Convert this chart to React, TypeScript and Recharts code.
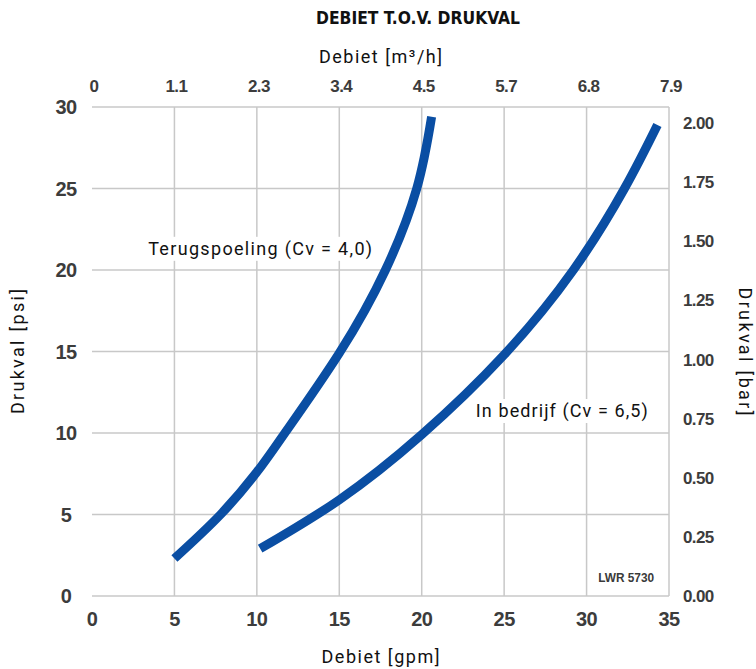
import React from "react";
import {
  LineChart,
  Line,
  XAxis,
  YAxis,
  CartesianGrid,
  ReferenceDot,
  Label,
} from "recharts";

// flow in gpm, with the matching m3/h values printed on the top axis
const gpmTicks = [0, 5, 10, 15, 20, 25, 30, 35];
const m3hLabels = ["0", "1.1", "2.3", "3.4", "4.5", "5.7", "6.8", "7.9"];
const psiTicks = [0, 5, 10, 15, 20, 25, 30];
const barTicks = [0, 0.25, 0.5, 0.75, 1, 1.25, 1.5, 1.75, 2];
const PSI_PER_BAR = 14.5038;

// Terugspoeling (Cv = 4,0)
const backwashGpm = [5.0, 7.8, 10, 11.7, 15, 17.8, 19.7, 20.6];
const backwashPsi = [2.3, 5, 7.6, 10, 14.9, 20, 25, 29.4];
// In bedrijf (Cv = 6,5)
const serviceGpm = [10.2, 15, 20, 25, 29.2, 32.3, 34.3];
const servicePsi = [2.9, 5.9, 9.9, 14.8, 20, 25, 28.9];

const backwash = backwashGpm.map((gpm, i) => ({ gpm, psi: backwashPsi[i] }));
const service = serviceGpm.map((gpm, i) => ({ gpm, psi: servicePsi[i] }));
// same curve in bar, only used so the top/right axes get drawn
const serviceBar = serviceGpm.map((gpm, i) => ({
  gpm,
  bar: servicePsi[i] / PSI_PER_BAR,
}));

const BLUE = "#0a4ea3";
const GRID = "#c8c8c8";
const DIN = "'Roboto', 'Noto Sans', sans-serif";
const TICK_FONT = "'Liberation Sans', Arial, sans-serif";

function AxisTick(props: any) {
  const { x, y, payload, dx = 0, dy = 0, size = 17, anchor = "middle", format } = props;
  const text = format ? format(payload.value, props.index) : payload.value;
  return (
    <text
      x={x + dx}
      y={y + dy}
      dy="0.35em"
      textAnchor={anchor}
      fontFamily={TICK_FONT}
      fontSize={size}
      fontWeight={700}
      letterSpacing={-0.6}
      fill="#3c3c3c"
    >
      {text}
    </text>
  );
}

function CurveNote(props: any) {
  const { viewBox, text, width } = props;
  const cx = viewBox.x + (viewBox.width || 0) / 2;
  const cy = viewBox.y + (viewBox.height || 0) / 2;
  return (
    <g>
      <rect x={cx - width / 2 - 3} y={cy - 12} width={width + 6} height={24} fill="#fff" />
      <text
        x={cx - width / 2}
        y={cy}
        dy="0.35em"
        textLength={width}
        lengthAdjust="spacing"
        fontFamily={DIN}
        fontSize={18}
        fill="#111"
      >
        {text}
      </text>
    </g>
  );
}

function StampNote(props: any) {
  const { viewBox } = props;
  const cx = viewBox.x + (viewBox.width || 0) / 2;
  const cy = viewBox.y + (viewBox.height || 0) / 2;
  return (
    <text
      x={cx - 28}
      y={cy}
      dy="0.35em"
      textLength={56}
      lengthAdjust="spacingAndGlyphs"
      fontFamily={TICK_FONT}
      fontSize={12}
      fontWeight={700}
      fill="#3a3a3a"
    >
      LWR 5730
    </text>
  );
}

function AxisTitle(props: any) {
  const { x, y, value, angle = 0, length } = props;
  return (
    <text
      x={x}
      y={y}
      dy="0.35em"
      textAnchor="middle"
      textLength={length}
      lengthAdjust="spacing"
      transform={angle ? `rotate(${angle}, ${x}, ${y})` : undefined}
      fontFamily={DIN}
      fontSize={18}
      fill="#111"
    >
      {value}
    </text>
  );
}

export default function App() {
  return (
    <div
      style={{
        position: "absolute",
        left: 0,
        top: 0,
        width: 756,
        height: 669,
        background: "#fff",
      }}
    >
      <LineChart
        width={756}
        height={669}
        margin={{ top: 77, right: 27, bottom: 43, left: 32 }}
      >
        <CartesianGrid
          stroke={GRID}
          strokeWidth={1.5}
          verticalValues={gpmTicks.slice(1)}
          horizontalValues={psiTicks}
        />
        <XAxis
          dataKey="gpm"
          type="number"
          domain={[0, 35]}
          ticks={gpmTicks}
          axisLine={false}
          tickLine={false}
          height={30}
          tick={<AxisTick dy={15} size={20} />}
        >
          <Label
            position="bottom"
            content={(p: any) => (
              <AxisTitle
                x={p.viewBox.x + p.viewBox.width / 2}
                y={p.viewBox.y + p.viewBox.height + 31}
                value="Debiet [gpm]"
                length={118}
              />
            )}
          />
        </XAxis>
        <XAxis
          xAxisId="top"
          dataKey="gpm"
          orientation="top"
          type="number"
          domain={[0, 35]}
          ticks={gpmTicks}
          axisLine={false}
          tickLine={false}
          height={30}
          tick={
            <AxisTick
              dx={2}
              dy={-13}
              size={17}
              format={(v: number) => m3hLabels[gpmTicks.indexOf(v)]}
            />
          }
        >
          <Label
            position="top"
            content={(p: any) => (
              <AxisTitle
                x={p.viewBox.x + p.viewBox.width / 2}
                y={p.viewBox.y - 20}
                value="Debiet [m³/h]"
                length={123}
              />
            )}
          />
        </XAxis>
        <YAxis
          type="number"
          domain={[0, 30]}
          ticks={psiTicks}
          axisLine={false}
          tickLine={false}
          width={60}
          tick={<AxisTick dx={-18} size={20} />}
        >
          <Label
            position="left"
            content={(p: any) => (
              <AxisTitle
                x={p.viewBox.x - 14}
                y={p.viewBox.y + p.viewBox.height / 2}
                angle={-90}
                value="Drukval [psi]"
                length={125}
              />
            )}
          />
        </YAxis>
        <YAxis
          yAxisId="bar"
          orientation="right"
          type="number"
          domain={[0, 30 / PSI_PER_BAR]}
          ticks={barTicks}
          axisLine={false}
          tickLine={false}
          width={60}
          tick={
            <AxisTick
              dx={6}
              size={17}
              anchor="start"
              format={(v: number) => v.toFixed(2)}
            />
          }
        >
          <Label
            position="right"
            content={(p: any) => (
              <AxisTitle
                x={p.viewBox.x + p.viewBox.width + 16}
                y={p.viewBox.y + p.viewBox.height / 2}
                angle={90}
                value="Drukval [bar]"
                length={128}
              />
            )}
          />
        </YAxis>
        <Line
          xAxisId="top"
          yAxisId="bar"
          data={serviceBar}
          dataKey="bar"
          stroke="none"
          strokeWidth={0}
          dot={false}
          activeDot={false}
          legendType="none"
          isAnimationActive={false}
        />
        <Line
          data={backwash}
          dataKey="psi"
          type="natural"
          stroke={BLUE}
          strokeWidth={9}
          dot={false}
          activeDot={false}
          isAnimationActive={false}
        />
        <Line
          data={service}
          dataKey="psi"
          type="natural"
          stroke={BLUE}
          strokeWidth={9}
          dot={false}
          activeDot={false}
          isAnimationActive={false}
        />
        <ReferenceDot
          x={10.2}
          y={21.3}
          r={0}
          stroke="none"
          label={(p: any) => (
            <CurveNote viewBox={p.viewBox} text="Terugspoeling (Cv = 4,0)" width={224} />
          )}
        />
        <ReferenceDot
          x={28.5}
          y={11.35}
          r={0}
          stroke="none"
          label={(p: any) => (
            <CurveNote viewBox={p.viewBox} text="In bedrijf (Cv = 6,5)" width={172} />
          )}
        />
        <ReferenceDot
          x={32.4}
          y={1.1}
          r={0}
          stroke="none"
          label={(p: any) => <StampNote viewBox={p.viewBox} />}
        />
      </LineChart>
      <svg
        width={756}
        height={40}
        style={{ position: "absolute", left: 0, top: 0, pointerEvents: "none" }}
      >
        <text
          x={418}
          y={18}
          dy="0.35em"
          textAnchor="middle"
          textLength={204}
          lengthAdjust="spacingAndGlyphs"
          fontFamily="'DejaVu Sans Condensed', 'Roboto', sans-serif"
          fontWeight={700}
          fontSize={18}
          fill="#111"
        >
          DEBIET T.O.V. DRUKVAL
        </text>
      </svg>
    </div>
  );
}
